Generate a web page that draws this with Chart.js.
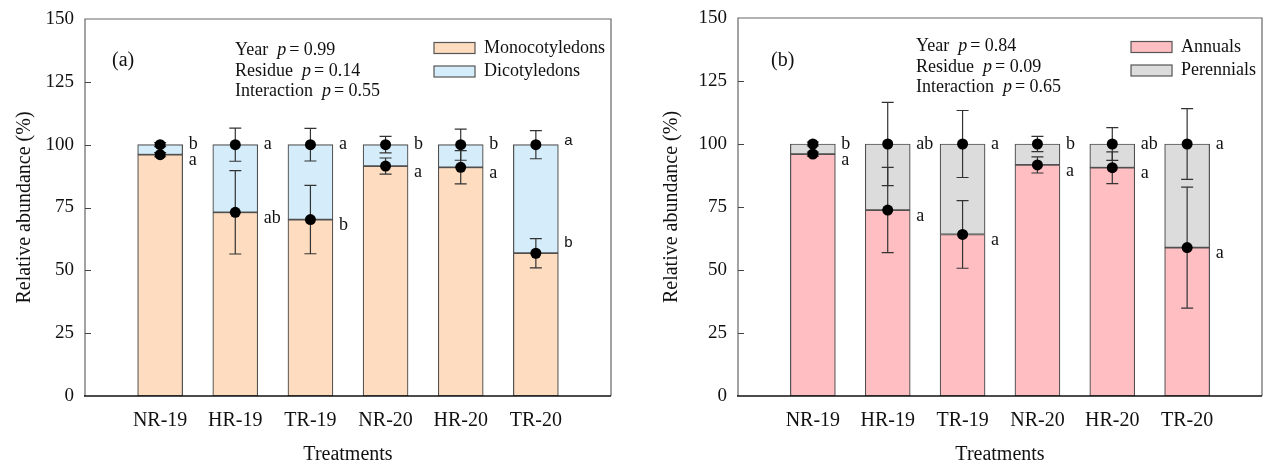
<!DOCTYPE html>
<html>
<head>
<meta charset="utf-8">
<script src="https://cdn.jsdelivr.net/npm/chart.js@4.4.1/dist/chart.umd.min.js"></script>
<style>
  html, body { margin: 0; padding: 0; background: #fff; }
  #wrap { position: relative; width: 1263px; height: 465px; overflow: hidden; }
  .panel { position: absolute; top: 0; }
  #panelA { left: 0; }
  #panelB { left: 640px; }
</style>
</head>
<body>
<div id="wrap">
  <div class="panel" id="panelA"><canvas id="chartA" width="640" height="465"></canvas></div>
  <div class="panel" id="panelB"><canvas id="chartB" width="623" height="465"></canvas></div>
</div>
<script>
const categories = ['NR-19', 'HR-19', 'TR-19', 'NR-20', 'HR-20', 'TR-20'];
const yTickValues = [0, 25, 50, 75, 100, 125, 150];

// panel (a) - monocots vs dicots
const monoValues = [96.0, 73.1, 70.2, 91.5, 91.0, 56.8];
const monoErrors = [0.8, 16.6, 13.6, 3.2, 6.6, 5.8];
const monoLetters = ['a', 'ab', 'b', 'a', 'a', 'b'];
const dicoValues = [4.0, 26.9, 29.8, 8.5, 9.0, 43.2];
const dicoErrors = [0.8, 6.6, 6.5, 3.3, 6.2, 5.6];
const dicoLetters = ['b', 'a', 'a', 'b', 'b', 'a'];
const statsA = [['Year', '0.99'], ['Residue', '0.14'], ['Interaction', '0.55']];

// panel (b) - annuals vs perennials
const annualValues = [96.0, 73.8, 64.1, 91.7, 90.6, 58.9];
const annualErrors = [0.8, 16.9, 13.4, 3.2, 6.3, 24.0];
const annualLetters = ['a', 'a', 'a', 'a', 'a', 'a'];
const perennialValues = [4.0, 26.2, 35.9, 8.3, 9.4, 41.1];
const perennialErrors = [0.8, 16.5, 13.3, 3.0, 6.5, 14.0];
const perennialLetters = ['b', 'ab', 'a', 'b', 'ab', 'a'];
const statsB = [['Year', '0.84'], ['Residue', '0.09'], ['Interaction', '0.65']];

const serif = "'Liberation Serif', 'Times New Roman', serif";
const sans = "'Liberation Sans', Arial, sans-serif";
const ink = '#111';

// empty slot at each end so the bars sit one step in from the frame
const pad = arr => [null, ...arr, null];

function extrasPlugin(o) {
    return {
        id: 'extras',
        afterDatasetsDraw(chart) {
            const ctx = chart.ctx;
            const { left, right, top, bottom } = chart.chartArea;
            const y = chart.scales.y;
            ctx.save();

            // frame
            ctx.strokeStyle = '#666';
            ctx.lineWidth = 1.2;
            ctx.beginPath();
            ctx.moveTo(left, bottom);
            ctx.lineTo(left, top);
            ctx.lineTo(right, top);
            ctx.lineTo(right, bottom);
            ctx.stroke();
            ctx.strokeStyle = ink;
            ctx.lineWidth = 1.5;
            ctx.beginPath();
            ctx.moveTo(left - 1, bottom);
            ctx.lineTo(right, bottom);
            ctx.stroke();

            // inward y ticks
            ctx.strokeStyle = '#444';
            ctx.lineWidth = 1;
            ctx.beginPath();
            yTickValues.slice(1, -1).forEach(v => {
                const py = Math.round(y.getPixelForValue(v)) + 0.5;
                ctx.moveTo(left, py);
                ctx.lineTo(left + 6, py);
            });
            ctx.stroke();

            // error bars
            const base = categories.map(() => 0);
            const tops = [];
            o.series.forEach((s, si) => {
                const meta = chart.getDatasetMeta(si);
                tops[si] = [];
                s.values.forEach((v, i) => {
                    const el = meta.data[i + 1];
                    const t = base[i] + v;
                    base[i] = t;
                    tops[si][i] = t;
                    const hi = y.getPixelForValue(t + s.errors[i]);
                    const lo = y.getPixelForValue(t - s.errors[i]);
                    ctx.strokeStyle = '#333';
                    ctx.lineWidth = 1.2;
                    ctx.beginPath();
                    ctx.moveTo(el.x, hi);
                    ctx.lineTo(el.x, lo);
                    ctx.moveTo(el.x - 6, hi);
                    ctx.lineTo(el.x + 6, hi);
                    ctx.moveTo(el.x - 6, lo);
                    ctx.lineTo(el.x + 6, lo);
                    ctx.stroke();
                });
            });

            // points and letters
            o.series.forEach((s, si) => {
                const meta = chart.getDatasetMeta(si);
                s.values.forEach((v, i) => {
                    const el = meta.data[i + 1];
                    const py = y.getPixelForValue(tops[si][i]);
                    ctx.fillStyle = '#000';
                    ctx.beginPath();
                    ctx.arc(el.x, py, 5.5, 0, Math.PI * 2);
                    ctx.fill();

                    const last = o.sansLast && i === categories.length - 1;
                    ctx.font = last ? '15px ' + sans : '18px ' + serif;
                    ctx.fillStyle = ink;
                    ctx.textAlign = 'left';
                    ctx.textBaseline = 'middle';
                    let ly = py;
                    if (si === 0) ly = last ? py - 10 : py + 6;
                    else if (last) ly = py - 4;
                    ctx.fillText(s.letters[i], el.x + el.width / 2 + 6, ly);
                });
            });

            // panel tag
            ctx.font = '20px ' + serif;
            ctx.fillStyle = ink;
            ctx.textBaseline = 'middle';
            ctx.fillText(o.tag, left + o.tagDx, 61);

            // stats text
            o.stats.forEach((row, k) => {
                const ty = o.statsTop + k * 20.5;
                let tx = left + o.statsDx;
                ctx.font = '18px ' + serif;
                ctx.fillText(row[0], tx, ty);
                tx += ctx.measureText(row[0]).width + 9;
                ctx.font = 'italic 18px ' + serif;
                ctx.fillText('p', tx, ty);
                tx += ctx.measureText('p').width + 3;
                ctx.font = '18px ' + serif;
                ctx.fillText('= ' + row[1], tx, ty);
            });

            // legend
            ctx.font = '18px ' + serif;
            const labels = chart.data.datasets.map(d => d.label);
            const maxW = Math.max(...labels.map(l => ctx.measureText(l).width));
            const textX = right - 6 - maxW;
            chart.data.datasets.forEach((d, k) => {
                const cy = o.legendTop + k * 23.5;
                ctx.fillStyle = d.backgroundColor;
                ctx.fillRect(textX - 50, cy - 5.5, 41, 11);
                ctx.strokeStyle = '#555';
                ctx.lineWidth = 1.2;
                ctx.strokeRect(textX - 50, cy - 5.5, 41, 11);
                ctx.fillStyle = ink;
                ctx.fillText(d.label, textX, cy);
            });
            ctx.restore();
        }
    };
}

function makePanel(id, o) {
    const ctx = document.getElementById(id).getContext('2d');
    return new Chart(ctx, {
        type: 'bar',
        data: {
            labels: ['', ...categories, ''],
            datasets: o.series.map(s => ({
                label: s.label,
                data: pad(s.values),
                backgroundColor: s.color,
                borderColor: '#505050',
                borderWidth: 1.2,
                borderSkipped: false,
                barThickness: 45
            }))
        },
        options: {
            responsive: false,
            animation: false,
            layout: { padding: { top: o.padTop, right: o.padRight, left: 0, bottom: 0 } },
            plugins: {
                legend: { display: false },
                tooltip: { enabled: false }
            },
            scales: {
                x: {
                    stacked: true,
                    offset: false,
                    grid: { display: false, drawTicks: false },
                    border: { display: false },
                    ticks: {
                        color: ink,
                        font: { family: serif, size: 20 },
                        padding: 13,
                        autoSkip: false,
                        maxRotation: 0
                    },
                    title: {
                        display: true,
                        text: 'Treatments',
                        color: ink,
                        font: { family: serif, size: 20, lineHeight: 1 },
                        padding: 0
                    },
                    afterFit: s => {
                        s.height = 69;
                        s.paddingLeft = 0;
                        s.paddingRight = 0;
                    }
                },
                y: {
                    stacked: true,
                    min: 0,
                    max: 150,
                    grid: { display: false, drawTicks: false },
                    border: { display: false },
                    afterBuildTicks: s => {
                        s.ticks = yTickValues.map(v => ({ value: v }));
                    },
                    ticks: {
                        color: ink,
                        font: { family: serif, size: 19 },
                        padding: 11
                    },
                    title: {
                        display: true,
                        text: 'Relative abundance (%)',
                        color: ink,
                        font: { family: serif, size: 20, lineHeight: 1 },
                        padding: { top: o.yTitlePad, bottom: 0 }
                    },
                    afterFit: s => {
                        s.width = o.yAxisWidth;
                        s.paddingTop = 0;
                        s.paddingBottom = 0;
                    }
                }
            }
        },
        plugins: [extrasPlugin(o)]
    });
}

makePanel('chartA', {
    series: [
        { label: 'Monocotyledons', values: monoValues, errors: monoErrors, letters: monoLetters, color: '#fddcbf' },
        { label: 'Dicotyledons', values: dicoValues, errors: dicoErrors, letters: dicoLetters, color: '#d5edfa' }
    ],
    stats: statsA,
    tag: '(a)',
    tagDx: 27,
    statsDx: 150,
    statsTop: 50.5,
    legendTop: 48,
    padTop: 19,
    padRight: 29,
    yAxisWidth: 85,
    yTitlePad: 15,
    sansLast: true
});

makePanel('chartB', {
    series: [
        { label: 'Annuals', values: annualValues, errors: annualErrors, letters: annualLetters, color: '#ffbec1' },
        { label: 'Perennials', values: perennialValues, errors: perennialErrors, letters: perennialLetters, color: '#dcdcdc' }
    ],
    stats: statsB,
    tag: '(b)',
    tagDx: 33,
    statsDx: 178,
    statsTop: 46.5,
    legendTop: 47,
    padTop: 18,
    padRight: 1,
    yAxisWidth: 98,
    yTitlePad: 22,
    sansLast: false
});
</script>
</body>
</html>
